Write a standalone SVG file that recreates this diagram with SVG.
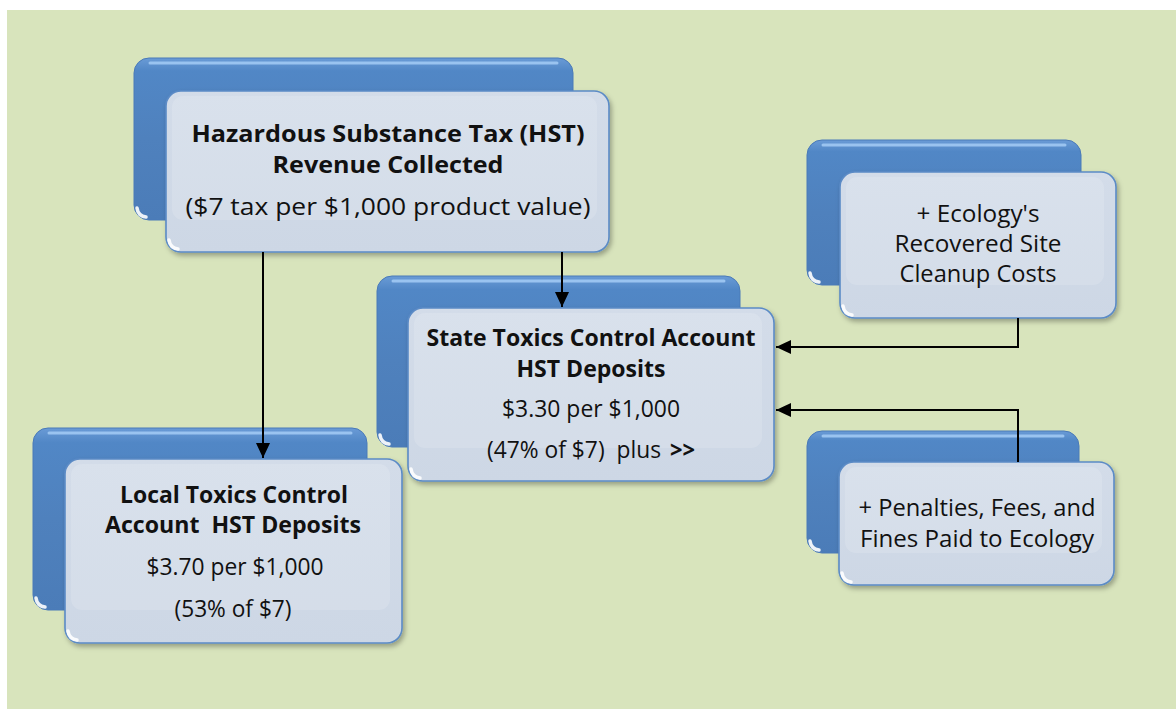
<svg xmlns="http://www.w3.org/2000/svg" width="1176" height="709" viewBox="0 0 1176 709">
<defs>
<style>
.bg{fill:#D8E4BC}
.back{fill:url(#gBack);stroke:#4A7AB8;stroke-width:1}
.backhl{fill:none;stroke:#A9CFF7;stroke-width:3;stroke-linecap:round;opacity:.8}
.spot{fill:none;stroke:#FFFFFF;stroke-width:3.5;stroke-linecap:round;opacity:.9}
.front{fill:url(#gFront);stroke:#5B8BC6;stroke-width:1.6;filter:url(#shadow)}
.gloss{fill:#FFFFFF;opacity:.14}
text{font-family:"Open Sans",Lato,"Liberation Sans",sans-serif;font-size:23.5px;fill:#111;text-anchor:middle}
.b{font-weight:bold}
.s{text-anchor:start}
.conn{fill:none;stroke:#000;stroke-width:2}
</style>
<linearGradient id="gBack" x1="0" y1="0" x2="0" y2="1">
<stop offset="0" stop-color="#6A9BD6"/>
<stop offset="0.08" stop-color="#5187C6"/>
<stop offset="0.5" stop-color="#4F81BD"/>
<stop offset="1" stop-color="#4B7CB8"/>
</linearGradient>
<linearGradient id="gFront" x1="0" y1="0" x2="0" y2="1">
<stop offset="0" stop-color="#D3DCE9"/>
<stop offset="1" stop-color="#CDD7E5"/>
</linearGradient>
<filter id="shadow" x="-10%" y="-10%" width="125%" height="130%">
<feDropShadow dx="2" dy="3" stdDeviation="2.5" flood-color="#000" flood-opacity="0.3"/>
</filter>
<marker id="arr" markerUnits="userSpaceOnUse" markerWidth="15" markerHeight="14" viewBox="0 0 15 14" refX="15" refY="7" orient="auto">
<path d="M0,0 L15,7 L0,14 z" fill="#000"/>
</marker>
</defs>
<rect x="0" y="0" width="1176" height="709" fill="#FFFFFF"/>
<rect class="bg" x="7" y="10" width="1169" height="699"/>

<g id="node-hst">
<rect class="back" x="134" y="58" width="439" height="162" rx="15"/>
<path class="backhl" d="M150,63 H557"/>
<path class="spot" d="M137,208 Q138,216 146,217"/>
<rect class="front" x="166" y="91" width="443" height="161" rx="15"/>
<rect class="gloss" x="172" y="96" width="425" height="124" rx="11"/>
<path class="spot" d="M169,240 Q170,248 178,249"/>
<text class="b" x="388" y="142" textLength="393" lengthAdjust="spacingAndGlyphs">Hazardous Substance Tax (HST)</text>
<text class="b" x="388" y="173" textLength="231" lengthAdjust="spacingAndGlyphs">Revenue Collected</text>
<text x="388" y="215" textLength="405" lengthAdjust="spacingAndGlyphs">($7 tax per $1,000 product value)</text>
</g>

<g id="node-state">
<rect class="back" x="377" y="276" width="363" height="171" rx="15"/>
<path class="backhl" d="M393,281 H724"/>
<path class="spot" d="M380,435 Q381,443 389,444"/>
<rect class="front" x="408" y="308" width="366" height="173" rx="15"/>
<rect class="gloss" x="414" y="313" width="348" height="135" rx="11"/>
<path class="spot" d="M411,469 Q412,477 420,478"/>
<text class="b" x="591" y="346" textLength="329" lengthAdjust="spacingAndGlyphs">State Toxics Control Account</text>
<text class="b" x="591" y="377" textLength="149" lengthAdjust="spacingAndGlyphs">HST Deposits</text>
<text x="591" y="417" textLength="178" lengthAdjust="spacingAndGlyphs">$3.30 per $1,000</text>
<text class="s" x="487" y="458" textLength="174" lengthAdjust="spacingAndGlyphs">(47% of $7)&#160; plus</text>
<text class="s b" x="670" y="458" textLength="25" lengthAdjust="spacingAndGlyphs">&gt;&gt;</text>
</g>

<g id="node-local">
<rect class="back" x="33" y="428" width="334" height="182" rx="15"/>
<path class="backhl" d="M49,433 H351"/>
<path class="spot" d="M36,598 Q37,606 45,607"/>
<rect class="front" x="65" y="459" width="337" height="184" rx="15"/>
<rect class="gloss" x="71" y="464" width="319" height="146" rx="11"/>
<path class="spot" d="M68,631 Q69,639 77,640"/>
<text class="b" x="234" y="503" textLength="228" lengthAdjust="spacingAndGlyphs">Local Toxics Control</text>
<text class="b" x="233" y="533" textLength="256" lengthAdjust="spacingAndGlyphs">Account&#160; HST Deposits</text>
<text x="235" y="575" textLength="177" lengthAdjust="spacingAndGlyphs">$3.70 per $1,000</text>
<text x="233" y="617" textLength="117" lengthAdjust="spacingAndGlyphs">(53% of $7)</text>
</g>

<g id="node-ecology">
<rect class="back" x="807" y="140" width="274" height="145" rx="15"/>
<path class="backhl" d="M823,145 H1065"/>
<path class="spot" d="M810,273 Q811,281 819,282"/>
<rect class="front" x="840" y="172" width="276" height="146" rx="15"/>
<rect class="gloss" x="846" y="177" width="258" height="108" rx="11"/>
<path class="spot" d="M843,306 Q844,314 852,315"/>
<text x="978" y="222" textLength="123" lengthAdjust="spacingAndGlyphs">+ Ecology's</text>
<text x="978" y="252" textLength="167" lengthAdjust="spacingAndGlyphs">Recovered Site</text>
<text x="978" y="282" textLength="157" lengthAdjust="spacingAndGlyphs">Cleanup Costs</text>
</g>

<g id="node-penalties">
<rect class="back" x="807" y="431" width="272" height="122" rx="15"/>
<path class="backhl" d="M823,436 H1063"/>
<path class="spot" d="M810,541 Q811,549 819,550"/>
<rect class="front" x="839" y="462" width="275" height="123" rx="15"/>
<rect class="gloss" x="845" y="467" width="257" height="86" rx="11"/>
<path class="spot" d="M842,573 Q843,581 851,582"/>
<text x="977" y="516" textLength="237" lengthAdjust="spacingAndGlyphs">+ Penalties, Fees, and</text>
<text x="977" y="547" textLength="234" lengthAdjust="spacingAndGlyphs">Fines Paid to Ecology</text>
</g>

<g id="connectors">
<path class="conn" d="M263,252 V458" marker-end="url(#arr)"/>
<path class="conn" d="M562,252 V307" marker-end="url(#arr)"/>
<path class="conn" d="M1018,318 V347 H776" marker-end="url(#arr)"/>
<path class="conn" d="M1018,462 V410 H776" marker-end="url(#arr)"/>
</g>
</svg>
